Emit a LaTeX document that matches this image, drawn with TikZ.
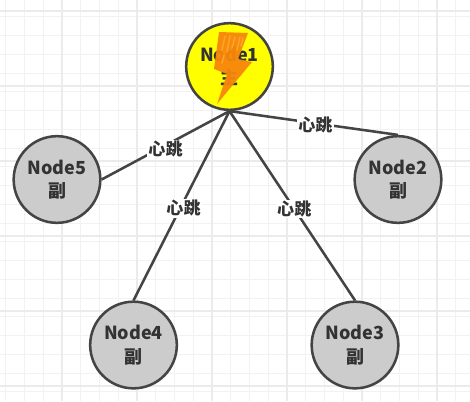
\documentclass[tikz,border=0pt]{standalone}
\usepackage{fontspec}
\setmainfont{Noto Sans CJK SC}
\definecolor{ink}{HTML}{444444}
\definecolor{txt}{HTML}{333333}
\definecolor{gridc}{HTML}{F2F2F2}
\definecolor{gridm}{HTML}{EBEBEB}
\definecolor{bolt}{HTML}{F7860C}
\definecolor{boltlight}{HTML}{FFA52E}
\definecolor{pureyellow}{RGB}{255,255,0}
\definecolor{nodegray}{RGB}{204,204,204}
\tikzset{
 x=0.75pt,y=-0.75pt,
 circnode/.style={circle,draw=ink,line width=1.9pt,minimum size=65pt,inner sep=0pt,align=center,text=txt,font=\fontsize{13.5pt}{17.5pt}\selectfont\bfseries},
 link/.style={draw=ink,line width=1.9pt},
 beat/.style={fill=white,inner sep=0.8pt,text=txt,font=\fontsize{12.8pt}{14pt}\selectfont\bfseries},
}
\begin{document}
\begin{tikzpicture}
\useasboundingbox (0,0) rectangle (470,401);
\fill[white] (0,0) rectangle (470,401);
\foreach \i in {0,...,25}{
 \draw[gridc,line width=0.7pt] ({5.5+18.75*\i},0) -- ({5.5+18.75*\i},401);
 \draw[gridc,line width=0.7pt] (0,{-2+18.75*\i}) -- (470,{-2+18.75*\i});
}
\foreach \i in {0,...,6}{
 \draw[gridm,line width=1pt] ({62+75*\i},0) -- ({62+75*\i},401);
 \draw[gridm,line width=1pt] (0,{11+75*\i}) -- (470,{11+75*\i});
}
\node[circnode,fill=pureyellow] (n1) at (229.5,66.5) {Node1\\主};
\node[circnode,fill=nodegray] (n5) at (57,179.5) {Node5\\副};
\node[circnode,fill=nodegray] (n2) at (398,179.5) {Node2\\副};
\node[circnode,fill=nodegray] (n4) at (133.5,345) {Node4\\副};
\node[circnode,fill=nodegray] (n3) at (355,345) {Node3\\副};
\draw[link] (n1.south) -- (n5.east) node[beat,pos=0.5,yshift=-3pt] (b5) {心跳};
\draw[link] (n1.south) -- (n4.north) node[beat,pos=0.5,xshift=1.5pt,yshift=-2pt] (b4) {心跳};
\draw[link] (n1.south) -- (n3.north) node[beat,pos=0.5,xshift=1.5pt,yshift=-2.5pt] (b3) {心跳};
\draw[link] (n1.south) -- (n2.north) node[beat,pos=0.51,yshift=-1.5pt] (b2) {心跳};
\fill[bolt,opacity=.95,line join=round] (219,32) -- (248,33) -- (238,59) -- (252,62) -- (217,104) -- (227,74) -- (214,69) -- cycle;
\foreach \a/\b/\c/\d in {225/36/222/50, 230/36/227/52, 235/37/232/48, 240/37/237/50, 243/38/241/46, 224/55/222/63}{
 \draw[boltlight,line width=1pt,line cap=round] (\a,\b) -- (\c,\d);
}
\end{tikzpicture}
\end{document}
